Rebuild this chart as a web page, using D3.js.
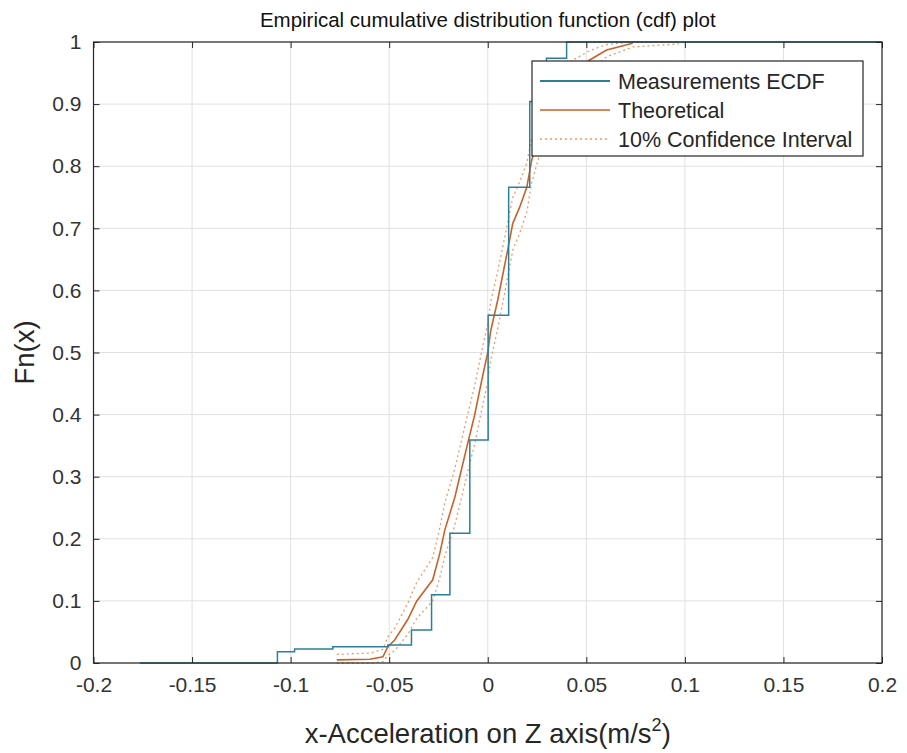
<!DOCTYPE html>
<html>
<head>
<meta charset="utf-8">
<script src="https://cdn.jsdelivr.net/npm/d3@7"></script>
<style>
  html, body { margin: 0; padding: 0; background: #fff; }
  svg { display: block; font-family: "Liberation Sans", Arial, Helvetica, sans-serif; }
</style>
</head>
<body>
<svg id="chart" width="907" height="753"></svg>
<script>
// ---- data ----
const xTicks = [-0.2, -0.15, -0.1, -0.05, 0, 0.05, 0.1, 0.15, 0.2];
const xTickLabels = ["-0.2", "-0.15", "-0.1", "-0.05", "0", "0.05", "0.1", "0.15", "0.2"];
const yTicks = [0, 0.1, 0.2, 0.3, 0.4, 0.5, 0.6, 0.7, 0.8, 0.9, 1];
const yTickLabels = ["0", "0.1", "0.2", "0.3", "0.4", "0.5", "0.6", "0.7", "0.8", "0.9", "1"];

// Measurements ECDF (step function, value after each step)
const ecdfX = [-0.1765, -0.1067, -0.0980, -0.0786, -0.0507, -0.0387, -0.0285, -0.0192, -0.0091, 0.0002, 0.0106, 0.0213, 0.0298, 0.0400, 0.2000];
const ecdfF = [0.000, 0.018, 0.0225, 0.026, 0.029, 0.053, 0.110, 0.209, 0.359, 0.560, 0.766, 0.904, 0.974, 1.000, 1.000];

// Theoretical cdf
const theoX = [-0.0766, -0.0598, -0.0532, -0.0507, -0.0472, -0.0406, -0.0360, -0.0279, -0.0243, -0.0218, -0.0167, -0.0106, -0.0066, -0.0030, 0.0000, 0.0015, 0.0051, 0.0101, 0.0127, 0.0162, 0.0198, 0.0223, 0.0300, 0.0400, 0.0517, 0.0603, 0.0735];
const theoF = [0.005, 0.006, 0.010, 0.026, 0.037, 0.070, 0.100, 0.134, 0.177, 0.214, 0.267, 0.348, 0.400, 0.456, 0.500, 0.535, 0.585, 0.665, 0.708, 0.734, 0.766, 0.810, 0.890, 0.945, 0.971, 0.987, 0.998];

// 10% confidence interval bounds
const ciX    = [-0.0766, -0.0598, -0.0532, -0.0507, -0.0472, -0.0406, -0.0360, -0.0279, -0.0243, -0.0218, -0.0167, -0.0106, -0.0066, -0.0030, 0.0000, 0.0015, 0.0051, 0.0101, 0.0127, 0.0162, 0.0198, 0.0223, 0.0300, 0.0400, 0.0517, 0.0603, 0.0735, 0.0970];
const ciLow  = [0.000, 0.000, 0.002, 0.012, 0.020, 0.046, 0.072, 0.100, 0.138, 0.172, 0.222, 0.302, 0.353, 0.409, 0.453, 0.488, 0.539, 0.621, 0.665, 0.692, 0.726, 0.774, 0.860, 0.922, 0.954, 0.976, 0.992, 0.997];
const ciHigh = [0.014, 0.016, 0.022, 0.042, 0.056, 0.096, 0.130, 0.170, 0.218, 0.258, 0.313, 0.395, 0.447, 0.503, 0.547, 0.582, 0.631, 0.709, 0.750, 0.775, 0.805, 0.845, 0.918, 0.965, 0.986, 0.996, 1.000, 1.000];

const legendLabels = ["Measurements ECDF", "Theoretical", "10% Confidence Interval"];

// ---- layout ----
const svg = d3.select("#chart");
const L = 93.5, R = 882, T = 42, B = 663;
const x = d3.scaleLinear().domain([-0.2, 0.2]).range([L, R]);
const y = d3.scaleLinear().domain([0, 1]).range([B, T]);

const axisColor = "#262626";
const cEcdf = "#2a8099";
const cTheo = "#c8622a";
const cCI = "#eb9a6a";

svg.append("rect").attr("width", 907).attr("height", 753).attr("fill", "#fff");

// grid
const grid = svg.append("g").attr("stroke", "#e0e0e0").attr("stroke-width", 1);
xTicks.forEach(t => grid.append("line").attr("x1", x(t)).attr("x2", x(t)).attr("y1", T).attr("y2", B));
yTicks.forEach(t => grid.append("line").attr("y1", y(t)).attr("y2", y(t)).attr("x1", L).attr("x2", R));

// clip
svg.append("clipPath").attr("id", "clip").append("rect")
  .attr("x", L).attr("y", T - 1).attr("width", R - L).attr("height", B - T + 2);
const plot = svg.append("g").attr("clip-path", "url(#clip)");

const ciLowPts = ciX.map((v, i) => [v, ciLow[i]]);
const ciHighPts = ciX.map((v, i) => [v, ciHigh[i]]);
const theoPts = theoX.map((v, i) => [v, theoF[i]]);
const ecdfPts = ecdfX.map((v, i) => [v, ecdfF[i]]);

const line = d3.line().x(d => x(d[0])).y(d => y(d[1]));
const stepLine = d3.line().x(d => x(d[0])).y(d => y(d[1])).curve(d3.curveStepAfter);

[ciLowPts, ciHighPts].forEach(pts => {
  plot.append("path").attr("d", line(pts)).attr("fill", "none")
    .attr("stroke", cCI).attr("stroke-width", 1.3).attr("stroke-dasharray", "2,3");
});
plot.append("path").attr("d", line(theoPts)).attr("fill", "none")
  .attr("stroke", cTheo).attr("stroke-width", 1.6);
plot.append("path").attr("d", stepLine(ecdfPts)).attr("fill", "none")
  .attr("stroke", cEcdf).attr("stroke-width", 1.5);

// axes box and ticks
const axes = svg.append("g");
const xAxisB = d3.axisBottom(x).tickValues(xTicks).tickFormat((d, i) => xTickLabels[i]).tickSizeInner(-6).tickSizeOuter(0).tickPadding(14);
const xAxisT = d3.axisTop(x).tickValues(xTicks).tickFormat("").tickSizeInner(-6).tickSizeOuter(0);
const yAxisL = d3.axisLeft(y).tickValues(yTicks).tickFormat((d, i) => yTickLabels[i]).tickSizeInner(-6).tickSizeOuter(0).tickPadding(12);
const yAxisR = d3.axisRight(y).tickValues(yTicks).tickFormat("").tickSizeInner(-6).tickSizeOuter(0);

function styleAxis(g) {
  g.select(".domain").remove();
  g.selectAll(".tick line").attr("stroke", axisColor).attr("stroke-width", 1);
  g.selectAll(".tick text").attr("fill", "#333").attr("font-size", 21)
    .attr("font-family", "'Liberation Sans', Arial, sans-serif");
}
axes.append("g").attr("transform", `translate(0,${B})`).call(xAxisB).call(styleAxis);
axes.append("g").attr("transform", `translate(0,${T})`).call(xAxisT).call(styleAxis);
axes.append("g").attr("transform", `translate(${L},0)`).call(yAxisL).call(styleAxis);
axes.append("g").attr("transform", `translate(${R},0)`).call(yAxisR).call(styleAxis);
axes.append("rect").attr("x", L).attr("y", T).attr("width", R - L).attr("height", B - T)
  .attr("fill", "none").attr("stroke", axisColor).attr("stroke-width", 1.2);

// title & labels
svg.append("text").attr("x", (L + R) / 2).attr("y", 27).attr("text-anchor", "middle")
  .attr("font-size", 20.5).attr("fill", "#111")
  .text("Empirical cumulative distribution function (cdf) plot");

const xl = svg.append("text").attr("x", (L + R) / 2).attr("y", 743).attr("text-anchor", "middle")
  .attr("font-size", 27.5).attr("fill", "#262626");
xl.append("tspan").text("x-Acceleration on Z axis(m/s");
xl.append("tspan").attr("font-size", 18).attr("dy", -12).text("2");
xl.append("tspan").attr("dy", 12).text(")");

svg.append("text").attr("transform", `translate(24,${(T + B) / 2}) rotate(-90)`)
  .attr("text-anchor", "middle").attr("dy", "0.35em").attr("font-size", 27.5).attr("fill", "#262626")
  .text("Fn(x)");

// legend
const lg = svg.append("g");
lg.append("rect").attr("x", 532).attr("y", 61).attr("width", 331).attr("height", 95)
  .attr("fill", "#fff").attr("stroke", axisColor).attr("stroke-width", 1.2);
const rows = [81, 110, 139];
const styles = [
  { c: cEcdf, w: 2, dash: null },
  { c: cTheo, w: 1.6, dash: null },
  { c: cCI, w: 1.3, dash: "2,3" }
];
legendLabels.forEach((lab, i) => {
  const ln = lg.append("line").attr("x1", 540).attr("x2", 610).attr("y1", rows[i]).attr("y2", rows[i])
    .attr("stroke", styles[i].c).attr("stroke-width", styles[i].w);
  if (styles[i].dash) ln.attr("stroke-dasharray", styles[i].dash);
  lg.append("text").attr("x", 618).attr("y", rows[i]).attr("dy", "0.35em")
    .attr("font-size", 21.5).attr("fill", "#262626").text(lab);
});
</script>
</body>
</html>
